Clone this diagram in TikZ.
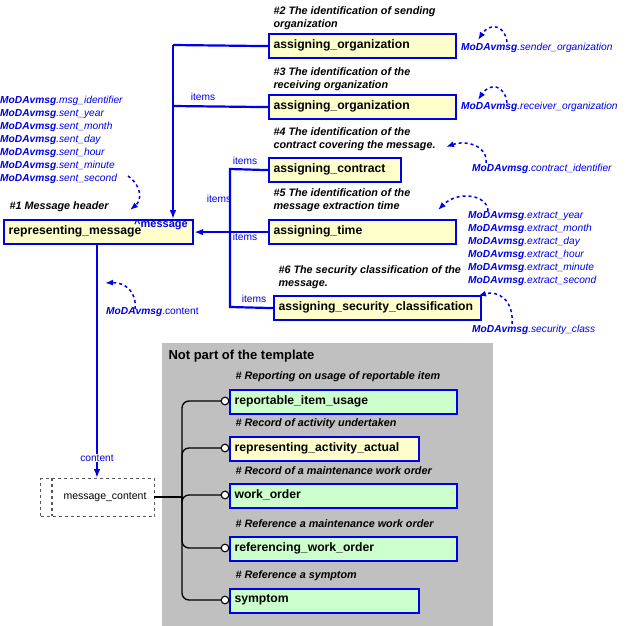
\documentclass[tikz,border=0pt]{standalone}
\usepackage{fontspec}
\setmainfont{Liberation Sans}
\usetikzlibrary{arrows.meta}
\definecolor{bl}{RGB}{0,0,230}
\definecolor{yel}{RGB}{255,255,204}
\definecolor{grn}{RGB}{204,255,204}
\definecolor{gry}{RGB}{192,192,192}
\newcommand{\mv}[1]{\textbf{\textit{MoDAvmsg}}\textit{.#1}}
\begin{document}
\begin{tikzpicture}[x=1pt,y=-1pt,
  ent/.style={draw=bl,line width=2.2pt,fill=yel,anchor=north west,inner sep=0pt},
  gent/.style={ent,fill=grn},
  capt/.style={anchor=west,align=left,font=\fontsize{10.8}{13}\selectfont\bfseries\itshape},
  lab/.style={text=bl,font=\fontsize{10.2}{13}\selectfont},
  rel/.style={draw=bl,line width=2.2pt},
  curl/.style={draw=bl,dashed,line width=1.5pt,-{Latex[length=8pt]}},
  tree/.style={draw=black,line width=1.3pt,rounded corners=7pt}]
\useasboundingbox (0,0) rectangle (626,626);
\fill[gry] (162,343) rectangle (493,626);
\node[anchor=west,font=\fontsize{13}{14}\selectfont\bfseries] at (165,356) {Not part of the template};
% entities
\newcommand{\ebox}[6]{\node[#1,minimum width=#4-#2,minimum height=24] (#6) at (#2,#3) {};
  \node[anchor=west,font=\fontsize{12.2}{13}\selectfont\bfseries] at (#2+2,#3+12) {#5};}
\ebox{ent}{268}{33}{455}{assigning\_organization}{ao1}
\ebox{ent}{268}{94}{455}{assigning\_organization}{ao2}
\ebox{ent}{268}{157}{400}{assigning\_contract}{ac}
\ebox{ent}{268}{219}{455}{assigning\_time}{at}
\ebox{ent}{273}{295}{480}{assigning\_security\_classification}{as}
\ebox{ent}{3}{219}{192}{representing\_message}{rm}
\ebox{gent}{229}{389}{456}{reportable\_item\_usage}{r1}
\ebox{ent}{229}{436}{418}{representing\_activity\_actual}{r2}
\ebox{gent}{229}{483}{456}{work\_order}{r3}
\ebox{gent}{229}{536}{456}{referencing\_work\_order}{r4}
\ebox{gent}{229}{588}{418}{symptom}{r5}
\node[lab,font=\fontsize{11}{12}\selectfont\bfseries,anchor=south west,inner sep=0pt] at (134,230) {\textasciicircum message};
% captions
\node[capt] at (270,18) {\#2 The identification of sending\\organization};
\node[capt] at (270,79) {\#3 The identification of the\\receiving organization};
\node[capt] at (270,139) {\#4 The identification of the\\contract covering the message.};
\node[capt] at (270,200) {\#5 The identification of the\\message extraction time};
\node[capt] at (275,277) {\#6 The security classification of the\\message.};
\node[capt] at (6,207) {\#1 Message header};
\node[capt] at (232,377) {\# Reporting on usage of reportable item};
\node[capt] at (232,424) {\# Record of activity undertaken};
\node[capt] at (232,471) {\# Record of a maintenance work order};
\node[capt] at (232,524) {\# Reference a maintenance work order};
\node[capt] at (232,576) {\# Reference a symptom};
% blue labels
\node[lab,anchor=west,inner sep=0pt] (l2) at (461,48) {\mv{sender\_organization}};
\node[lab,anchor=west,inner sep=0pt] (l3) at (461,107) {\mv{receiver\_organization}};
\node[lab,anchor=west,inner sep=0pt] (l4) at (472,169) {\mv{contract\_identifier}};
\node[lab,anchor=north west,align=left,inner sep=0pt] (l5) at (468,211) {\mv{extract\_year}\\\mv{extract\_month}\\\mv{extract\_day}\\\mv{extract\_hour}\\\mv{extract\_minute}\\\mv{extract\_second}};
\node[lab,anchor=west,inner sep=0pt] (l6) at (472,330) {\mv{security\_class}};
\node[lab,anchor=north west,align=left,inner sep=0pt] (l1) at (0,96) {\mv{msg\_identifier}\\\mv{sent\_year}\\\mv{sent\_month}\\\mv{sent\_day}\\\mv{sent\_hour}\\\mv{sent\_minute}\\\mv{sent\_second}};
\node[lab,anchor=west,inner sep=0pt] (l7) at (106,312) {\textbf{\textit{MoDAvmsg}}.content};
% curly arrows
\coordinate (c2) at (478,40); \draw[curl] (507,42) .. controls (505,25) and (490,22) .. (c2);
\coordinate (c3) at (478,100); \draw[curl] (507,103) .. controls (505,85) and (490,82) .. (c3);
\coordinate (c4) at (446,147); \draw[curl] (486,163) .. controls (488,145) and (465,140) .. (c4);
\coordinate (c5) at (438,210); \draw[curl] (488,211) .. controls (488,195) and (458,190) .. (c5);
\coordinate (c6) at (478,296); \draw[curl] (512,324) .. controls (514,300) and (498,290) .. (c6);
\coordinate (c1) at (130,210); \draw[curl] (128,176) .. controls (142,186) and (142,200) .. (c1);
\coordinate (c7) at (105,283); \draw[curl] (135,309) .. controls (137,292) and (125,282) .. (c7);
% relations
\coordinate (bA) at (173,45);
\draw[rel] (ao1.west) -- (bA);
\draw[rel] (ao2.west) -- (173,106);
\draw[rel,-{Latex[length=9pt]}] (bA) -- (173,219);
\node[lab] at (203,97) {items};
\draw[rel,-{Latex[length=9pt]}] (at.west) -- (rm.east);
\draw[rel] (ac.west) -- (230,169) -- (230,307) -- (as.west);
\node[lab] at (245,161) {items};
\node[lab] at (219,199) {items};
\node[lab] at (245,237) {items};
\node[lab] at (254,299) {items};
% content
\node[draw=gray!70!black,dashed,line width=1.2pt,minimum width=114,minimum height=38,anchor=north west] (mc) at (40,478) {};
\draw[gray!70!black,dashed,line width=1.2pt] (52,478) -- (52,516);
\node[font=\fontsize{10.5}{12}\selectfont] at (105,497) {message\_content};
\draw[rel,-{Latex[length=9pt]}] (97,243) -- (97,478);
\node[lab,fill=white,inner sep=1pt] at (97,458) {content};
% tree
\coordinate (t0) at (182,497);
\draw[tree] (154,497) -- (t0);
\foreach \r/\y in {r1/401,r2/448,r3/495,r4/548,r5/600}{
  \draw[tree] (t0) -- (182,\y) -- (222,\y);
  \draw[black,line width=1.1pt,fill=white] (225,\y) circle (3.8);
}
\end{tikzpicture}
\end{document}
